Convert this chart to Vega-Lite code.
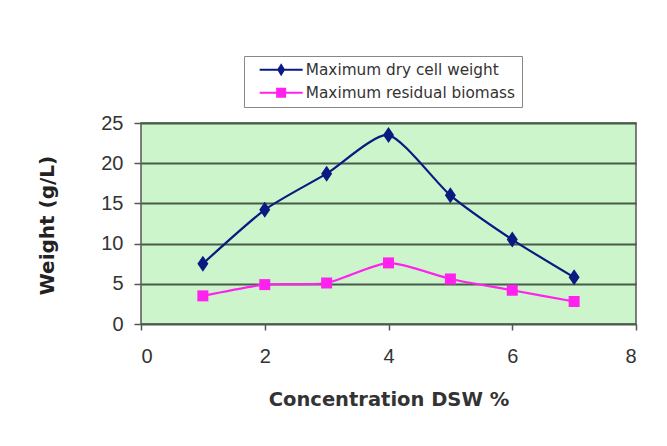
{
  "$schema": "https://vega.github.io/schema/vega-lite/v6.json",
  "autosize": "none",
  "width": 495,
  "height": 201,
  "padding": {"left": 141, "top": 123, "right": 31, "bottom": 122},
  "background": "white",
  "config": {
    "font": "Liberation Sans",
    "view": {"fill": "#ccf5cc", "stroke": "#555555", "strokeWidth": 1.5}
  },
  "data": {
    "values": [
      {"x": 1, "series": "Maximum dry cell weight", "value": 7.5},
      {"x": 2, "series": "Maximum dry cell weight", "value": 14.2},
      {"x": 3, "series": "Maximum dry cell weight", "value": 18.7},
      {"x": 4, "series": "Maximum dry cell weight", "value": 23.5},
      {"x": 5, "series": "Maximum dry cell weight", "value": 16.0},
      {"x": 6, "series": "Maximum dry cell weight", "value": 10.5},
      {"x": 7, "series": "Maximum dry cell weight", "value": 5.8},
      {"x": 1, "series": "Maximum residual biomass", "value": 3.5},
      {"x": 2, "series": "Maximum residual biomass", "value": 4.9},
      {"x": 3, "series": "Maximum residual biomass", "value": 5.1},
      {"x": 4, "series": "Maximum residual biomass", "value": 7.6},
      {"x": 5, "series": "Maximum residual biomass", "value": 5.6},
      {"x": 6, "series": "Maximum residual biomass", "value": 4.2},
      {"x": 7, "series": "Maximum residual biomass", "value": 2.8}
    ]
  },
  "encoding": {
    "x": {
      "field": "x", "type": "quantitative",
      "scale": {"domain": [0, 8], "nice": false},
      "axis": {
        "values": [0, 2, 4, 6, 8], "grid": false, "domain": false,
        "tickColor": "#555555", "tickSize": 6, "tickWidth": 1.5,
        "labelFontSize": 20, "labelColor": "#333333", "labelPadding": 16,
        "title": "Concentration DSW %", "titleFont": "DejaVu Sans", "titleFontSize": 19.5, "titleFontWeight": "bold",
        "titleColor": "#333333", "titleY": 75, "titleBaseline": "middle"
      }
    },
    "y": {
      "field": "value", "type": "quantitative",
      "scale": {"domain": [0, 25], "nice": false},
      "axis": {
        "values": [0, 5, 10, 15, 20, 25], "grid": true, "gridColor": "#4a5a4a", "gridWidth": 1.8,
        "domain": false, "tickColor": "#555555", "tickSize": 7, "tickWidth": 1.5,
        "labelFontSize": 20, "labelColor": "#333333", "labelPadding": 11,
        "title": "Weight (g/L)", "titleFont": "DejaVu Sans", "titleFontSize": 20, "titleFontWeight": "bold",
        "titleColor": "#222222", "titleX": -94, "titleY": 102, "titleAngle": -90,
        "titleAlign": "center", "titleBaseline": "middle"
      }
    }
  },
  "layer": [
    {
      "mark": {"type": "line", "interpolate": "cardinal", "tension": 0.35, "strokeWidth": 2.2},
      "encoding": {
        "color": {
          "field": "series", "type": "nominal",
          "scale": {"domain": ["Maximum dry cell weight", "Maximum residual biomass"], "range": ["#0a1a80", "#ff22ee"]},
          "legend": {
            "title": null, "orient": "none", "legendX": 103, "legendY": -67,
            "symbolSize": 100, "symbolOffset": 23.5, "labelOffset": 17, "labelLimit": 400,
            "labelFont": "DejaVu Sans", "labelFontSize": 15.3, "labelColor": "#333333",
            "rowPadding": 7, "padding": 6, "strokeColor": "#888888", "fillColor": "white",
            "encode": {
              "symbols": {
                "update": {
                  "shape": {"signal": "datum.value === 'Maximum dry cell weight' ? 'M-4.3,-0.2L4.3,-0.2L4.3,0.2L-4.3,0.2Z M0,-1.3L0.8,0L0,1.3L-0.8,0Z' : 'M-4.3,-0.2L4.3,-0.2L4.3,0.2L-4.3,0.2Z M-1,-1L1,-1L1,1L-1,1Z'"},
                  "fill": {"signal": "scale('color', datum.value)"},
                  "strokeWidth": {"value": 0},
                  "opacity": {"value": 1}
                }
              }
            }
          }
        }
      }
    },
    {
      "transform": [{"filter": "datum.series === 'Maximum dry cell weight'"}],
      "mark": {"type": "point", "filled": true, "opacity": 1, "shape": "M0,-1.6L1.1,0L0,1.6L-1.1,0Z", "size": 100},
      "encoding": {
        "color": {"field": "series", "type": "nominal"}
      }
    },
    {
      "transform": [{"filter": "datum.series === 'Maximum residual biomass'"}],
      "mark": {"type": "point", "filled": true, "opacity": 1, "shape": "M-1.1,-1.1L1.1,-1.1L1.1,1.1L-1.1,1.1Z", "size": 100},
      "encoding": {
        "color": {"field": "series", "type": "nominal"}
      }
    }
  ]
}
